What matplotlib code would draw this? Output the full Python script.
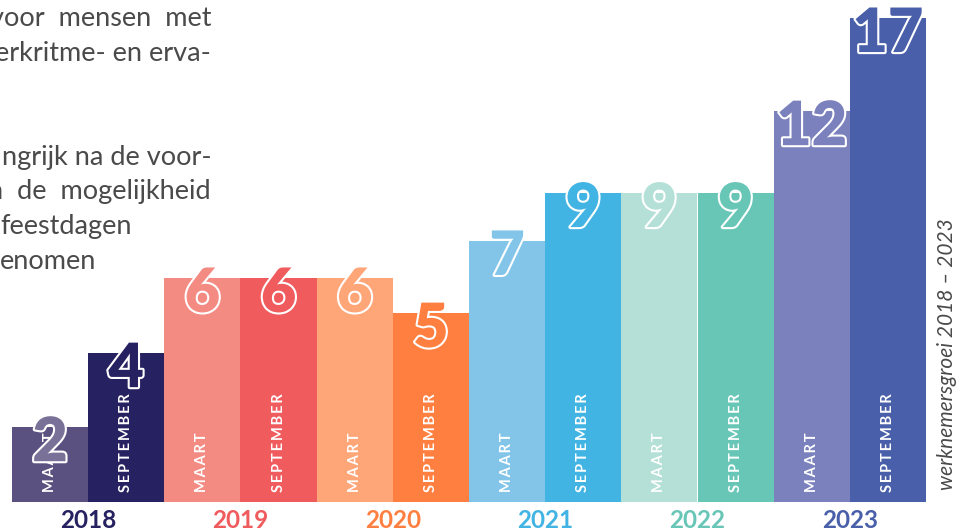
import matplotlib
matplotlib.use("Agg")
import matplotlib.pyplot as plt
import matplotlib.patheffects as pe

# ---------------- data ----------------
years = ["2018", "2019", "2020", "2021", "2022", "2023"]
months = ["MAART", "SEPTEMBER"] * 6
employees = [2, 4, 6, 6, 6, 5, 7, 9, 9, 9, 12, 17]
# drawn bar heights (the infographic compresses the top)
bar_heights = [2.0, 3.98, 5.99, 5.99, 5.99, 5.05, 6.98, 8.26, 8.26, 8.26, 10.45, 12.94]
bar_colors = ["#5b5180", "#262160", "#f38b82", "#f05b5d", "#ffa679", "#ff7f41",
              "#82c5e8", "#42b4e3", "#b4e0d7", "#68c6b7", "#7b81bd", "#4a5faa"]
digit_colors = ["#7a7198", "#262160", "#f38b82", "#f05b5d", "#ffa679", "#ff7f41",
                "#82c5e8", "#42b4e3", "#b4e0d7", "#68c6b7", "#7b81bd", "#4a5faa"]
year_colors = ["#262160", "#f05b5d", "#ff7f41", "#42b4e3", "#68c6b7", "#4a5faa"]
side_title = "werknemersgroei 2018 \u2013 2023"
body_lines = ["voor  mensen  met", "erkritme- en erva-", "", "",
              "ngrijk na de voor-", "n  de  mogelijkheid", "feestdagen", "enomen"]
body_align = ["right", "right", "right", "right", "right", "right", "left", "left"]

W, H = 973, 531
fig = plt.figure(figsize=(W / 100, H / 100), dpi=100)
fig.patch.set_facecolor("white")

ax = fig.add_axes([12 / W, 29 / H, 914 / W, 502 / H])
ax.set_xlim(-0.5, len(employees) - 0.5)
ax.set_ylim(0, 502 / 37.4)
ax.axis("off")

x = list(range(len(employees)))
ax.bar(x, bar_heights, width=1.0, color=bar_colors, edgecolor="none", zorder=1)

sp = "\u2009"
for xi, m in zip(x, months):
    ax.annotate(sp.join(m), (xi, 0), xytext=(0, 10), textcoords="offset pixels",
                rotation=90, ha="center", va="bottom", color="white",
                fontsize=10.5, fontweight="bold", family=["Lato", "DejaVu Sans"], zorder=2)

for xi, h, v, c in zip(x, bar_heights, employees, digit_colors):
    ax.annotate(str(v), (xi, h), xytext=(0, 12), textcoords="offset pixels",
                ha="center", va="top", color=c, fontsize=44, fontweight="heavy",
                family="Lato", zorder=3,
                path_effects=[pe.Stroke(linewidth=3, foreground="white"), pe.Normal()])

for i, (yr, c) in enumerate(zip(years, year_colors)):
    ax.annotate(yr, (2 * i + 0.5, 0), xytext=(0, -7), textcoords="offset pixels",
                ha="center", va="top", color=c, fontsize=17.5, fontweight="bold",
                family="Lato", annotation_clip=False)

# rotated side title
fig.text(947 / W, 1 - 354 / H, side_title, rotation=90, ha="center", va="center",
         fontsize=15, fontstyle="italic", fontweight="normal", family="Lato", color="#4a4a4a")

# cropped body text top-left
base0 = 26
for i, (line, al) in enumerate(zip(body_lines, body_align)):
    if not line:
        continue
    yb = base0 + i * 34.7
    xpos = 211 if al == "right" else 0
    fig.text(xpos / W, 1 - yb / H, line, ha=al, va="baseline", fontsize=19.5,
             fontweight="normal", family="Lato", color="#4a4a4a")

fig.savefig("out.png", dpi=100, facecolor="white")
